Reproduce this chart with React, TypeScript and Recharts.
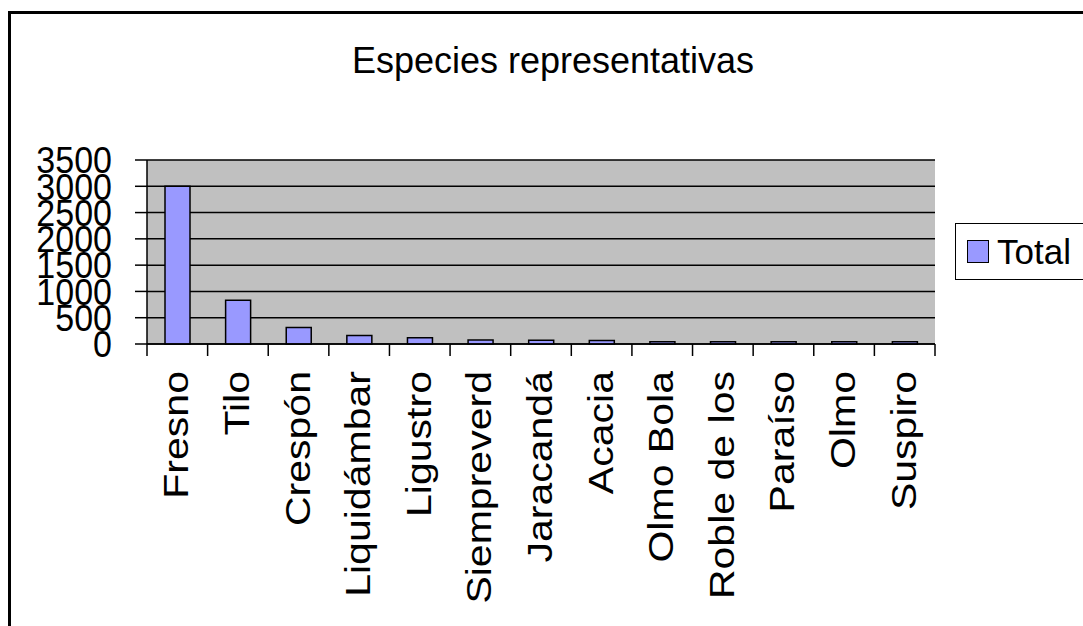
import { BarChart, Bar, XAxis, YAxis, CartesianGrid, Legend } from 'recharts'

const categories = [
  'Fresno', 'Tilo', 'Crespón', 'Liquidámbar', 'Ligustro', 'Siempreverd',
  'Jaracandá', 'Acacia', 'Olmo Bola', 'Roble de los', 'Paraíso', 'Olmo', 'Suspiro',
]
const totals = [3000, 830, 315, 160, 120, 75, 70, 65, 45, 45, 45, 45, 45]
const yTicks = [0, 500, 1000, 1500, 2000, 2500, 3000, 3500]
const seriesName = 'Total'
const title = 'Especies representativas'

const data = categories.map((name, i) => ({ name, total: totals[i] }))

const FONT = '"Liberation Sans", Arial, sans-serif'
const W = 1083
const H = 626
const PLOT_LEFT = 147
const PLOT_RIGHT = 935
const PLOT_TOP = 160
const PLOT_BOTTOM = 344
const Y_AXIS_W = 140
const X_AXIS_H = 230
const BAND = (PLOT_RIGHT - PLOT_LEFT) / categories.length

function CategoryTick(props: any) {
  const { x, y, payload, index } = props
  const left = x - BAND / 2
  return (
    <g>
      <line x1={left} x2={left} y1={y - 12} y2={y} stroke="#000" strokeWidth={1.5} />
      {index === categories.length - 1 && (
        <line x1={x + BAND / 2} x2={x + BAND / 2} y1={y - 12} y2={y} stroke="#000" strokeWidth={1.5} />
      )}
      <text
        transform={`translate(${x + 11},${y + 15}) rotate(-90) scale(1.14,1)`}
        textAnchor="end"
        fontSize={36}
        fontFamily={FONT}
        fill="#000"
      >
        {payload.value}
      </text>
    </g>
  )
}

function ValueTick(props: any) {
  const { x, y, payload } = props
  return (
    <text
      transform={`translate(${x},${y}) scale(1,1.1)`}
      dy="0.355em"
      textAnchor="end"
      fontSize={34}
      fontFamily={FONT}
      fill="#000"
    >
      {payload.value}
    </text>
  )
}

function LegendBox() {
  return (
    <div
      style={{
        boxSizing: 'border-box', width: '100%', height: '100%',
        border: '1.5px solid #000', display: 'flex', alignItems: 'center',
        paddingLeft: 11, fontFamily: FONT, fontSize: 35, color: '#000',
      }}
    >
      <span
        style={{
          display: 'inline-block', width: 20, height: 21, background: '#9999FF',
          border: '1.5px solid #000', marginRight: 8,
        }}
      />
      <span>{seriesName}</span>
    </div>
  )
}

export default function App() {
  return (
    <div
      style={{
        position: 'fixed', left: 0, top: 0, width: W, height: H,
        overflow: 'hidden', background: '#fff', fontFamily: FONT,
      }}
    >
      <div
        style={{
          position: 'absolute', left: 8, top: 11, width: 1120, height: 660,
          border: '3px solid #000',
        }}
      />
      <div
        style={{
          position: 'absolute', left: 553, top: 41, transform: 'translateX(-50%)',
          fontSize: 36, lineHeight: '40px', whiteSpace: 'nowrap', color: '#000',
        }}
      >
        {title}
      </div>
      <div style={{ position: 'absolute', left: 0, top: 0 }}>
        <BarChart
          width={W}
          height={H}
          data={data}
          margin={{
            top: PLOT_TOP,
            right: W - PLOT_RIGHT,
            bottom: H - PLOT_BOTTOM - X_AXIS_H,
            left: PLOT_LEFT - Y_AXIS_W,
          }}
        >
          <CartesianGrid
            vertical={false}
            stroke="#000"
            strokeWidth={1.5}
            fill="#C0C0C0"
            fillOpacity={1}
          />
          <XAxis
            dataKey="name"
            interval={0}
            height={X_AXIS_H}
            tickSize={12}
            tickMargin={0}
            tickLine={false}
            axisLine={{ stroke: '#000', strokeWidth: 1.5 }}
            tick={<CategoryTick />}
          />
          <YAxis
            domain={[0, 3500]}
            ticks={yTicks}
            interval={0}
            width={Y_AXIS_W}
            tickSize={12}
            tickMargin={23}
            axisLine={{ stroke: '#000', strokeWidth: 1.5 }}
            tickLine={{ stroke: '#000', strokeWidth: 1.5 }}
            tick={<ValueTick />}
          />
          <YAxis
            yAxisId="right"
            orientation="right"
            width={0}
            tick={false}
            tickLine={false}
            axisLine={{ stroke: '#808080', strokeWidth: 1.5 }}
          />
          <Legend
            layout="horizontal"
            verticalAlign="middle"
            align="center"
            wrapperStyle={{ left: 955, top: 223, width: 160, height: 57 }}
            content={() => <LegendBox />}
          />
          <Bar
            dataKey="total"
            name={seriesName}
            fill="#9999FF"
            stroke="#000"
            strokeWidth={1.5}
            barSize={25}
            isAnimationActive={false}
          />
        </BarChart>
      </div>
    </div>
  )
}
